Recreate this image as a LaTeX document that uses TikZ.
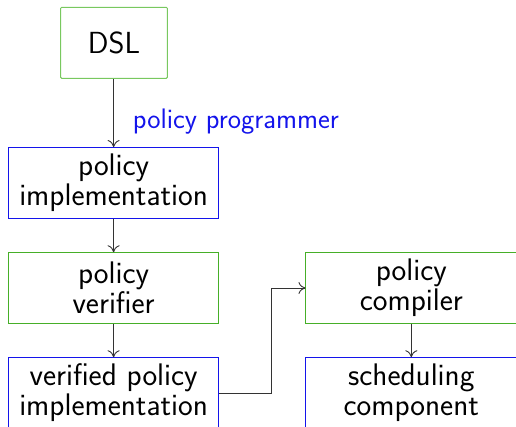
\documentclass[tikz,border=0pt]{standalone}
\usepackage{fontspec}
\usetikzlibrary{arrows.meta}
\definecolor{boxgreen}{RGB}{70,175,40}
\definecolor{dslgreen}{RGB}{120,200,95}
\definecolor{boxblue}{RGB}{20,20,235}
\begin{document}
\begin{tikzpicture}[x=1pt,y=-1pt,
  box/.style={draw, rectangle, line width=1pt, minimum width=210.7pt, minimum height=70.5pt,
    inner sep=0pt, align=center, font=\sffamily\fontsize{31.2}{30}\selectfont},
  gbox/.style={box, draw=boxgreen},
  bbox/.style={box, draw=boxblue},
  conn/.style={draw=black!80, line width=0.9pt, -{To[length=7pt,width=12pt]}},
  lbl/.style={text=boxblue, font=\sffamily\fontsize{28.2}{30}\selectfont, anchor=west, inner sep=0pt}]
\useasboundingbox (0,0) rectangle (516,427);
\clip (0,0) rectangle (516,427);
\node[box, draw=dslgreen, minimum width=106.6pt, minimum height=71pt, rounded corners=1pt,
  font=\sffamily\fontsize{30.5}{30}\selectfont] (dsl) at (114,42.8) {DSL};
\node[bbox] (impl) at (113.6,182.8) {policy\\implementation};
\node[gbox] (ver) at (113.6,288) {policy\\verifier};
\node[bbox] (vimpl) at (113.6,393) {verified policy\\implementation};
\node[gbox] (comp) at (411.3,288) {policy\\compiler};
\node[bbox] (sched) at (411.3,393) {scheduling\\component};
\node[lbl] (pp) at (132.7,121.5) {policy programmer};
\draw[conn] (dsl.south -| impl.north) -- (impl.north);
\draw[conn] (impl) -- (ver);
\draw[conn] (ver) -- (vimpl);
\draw[conn] (vimpl.east) -- ++(52,0) |- (comp.west);
\draw[conn] (comp) -- (sched);
\end{tikzpicture}
\end{document}
